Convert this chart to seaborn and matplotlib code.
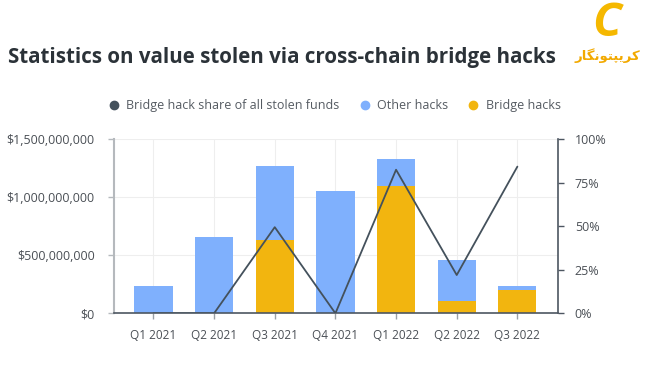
import matplotlib.pyplot as plt
import pandas as pd
import seaborn as sns
from matplotlib.lines import Line2D
from matplotlib.ticker import FuncFormatter

# data
quarters = ['Q1 2021', 'Q2 2021', 'Q3 2021', 'Q4 2021', 'Q1 2022', 'Q2 2022', 'Q3 2022']
total_stolen = [238e6, 655e6, 1267e6, 1052e6, 1330e6, 457e6, 238e6]   # other + bridge
bridge_stolen = [0, 0, 632e6, 0, 1100e6, 106e6, 201e6]
bridge_share = [0, 0, 49.5, 0, 82.5, 22, 84.3]  # percent

BLUE = '#7fb0fd'
YELLOW = '#f2b50f'
DARK = '#44515c'
TEXT = '#4a4f55'

sns.set_theme(style='white')
plt.rcParams['font.family'] = ['Open Sans', 'DejaVu Sans']

df = pd.DataFrame({'quarter': quarters, 'total': total_stolen,
                   'bridge': bridge_stolen, 'share': bridge_share})

fig = plt.figure(figsize=(6.5, 3.65), dpi=100)
ax = fig.add_axes([0.1754, 0.1416, 0.8585 - 0.1754, 0.6184 - 0.1416])

# stacked bars: full height in blue, bridge part in yellow on top of it
sns.barplot(data=df, x='quarter', y='total', color=BLUE, width=0.63,
            saturation=1, linewidth=0, ax=ax, zorder=2)
sns.barplot(data=df, x='quarter', y='bridge', color=YELLOW, width=0.63,
            saturation=1, linewidth=0, ax=ax, zorder=3)

ax.set_xlim(-0.65, 6.67)
ax.set_ylim(0, 1.5e9)
ax.set_yticks([0, 5e8, 1e9, 1.5e9])
ax.yaxis.set_major_formatter(FuncFormatter(lambda v, p: f'${v:,.0f}'))
ax.set_xlabel('')
ax.set_ylabel('')
ax.grid(True, color='#eeeeee', lw=0.8, zorder=0)
ax.set_axisbelow(True)

for side in ['top', 'right']:
    ax.spines[side].set_visible(False)
ax.spines['left'].set_color('#b5b9bd')
ax.spines['left'].set_linewidth(1.5)
ax.spines['bottom'].set_color('#4d5661')
ax.spines['bottom'].set_linewidth(1.2)
ax.spines['bottom'].set_zorder(5)

ax.tick_params(axis='y', left=True, length=4, width=1, color='#b5b9bd',
               pad=10, labelsize=9, labelcolor=TEXT)
ax.tick_params(axis='x', bottom=True, length=4, width=1, color='#9aa0a6',
               pad=7, labelsize=8.5, labelcolor=TEXT)

# share line on the right axis
ax2 = ax.twinx()
sns.lineplot(x=list(range(len(quarters))), y=df['share'], color=DARK,
             lw=1.3, ax=ax2, zorder=4)
ax2.set_ylim(0, 100)
ax2.set_xlim(-0.65, 6.67)
ax2.set_yticks([0, 25, 50, 75, 100])
ax2.yaxis.set_major_formatter(FuncFormatter(lambda v, p: f'{v:.0f}%'))
ax2.set_ylabel('')
for side in ['top', 'left', 'bottom']:
    ax2.spines[side].set_visible(False)
ax2.spines['right'].set_color('#4d5661')
ax2.spines['right'].set_linewidth(1.2)
ax2.tick_params(axis='y', right=True, length=4, width=1, color='#4d5661',
                pad=8, labelsize=9, labelcolor=TEXT)

# legend
handles = [
    Line2D([], [], marker='o', ls='', color=DARK, markersize=6),
    Line2D([], [], marker='o', ls='', color=BLUE, markersize=6),
    Line2D([], [], marker='o', ls='', color=YELLOW, markersize=6),
]
labels = ['Bridge hack share of all stolen funds', 'Other hacks', 'Bridge hacks']
fig.legend(handles, labels, loc='center', bbox_to_anchor=(0.514, 0.71), ncol=3,
           frameon=False, fontsize=9, labelcolor='#555b62', handletextpad=0.5,
           columnspacing=1.5, handlelength=1.0)

# title
fig.text(0.012, 1 - 58 / 365, 'Statistics on value stolen via cross-chain bridge hacks',
         fontsize=14.8, fontweight='bold', color='#2b3238', va='center', ha='left')

# logo (letter + persian name, shaped with presentation forms)
fig.text(607 / 650, 1 - 24 / 365, 'C', fontsize=34, fontweight='bold', style='italic',
         color='#f5b800', ha='center', va='center')
logo_name = '\uFEAD\uFE8E\uFB95\uFEE7\uFEEE\uFE98\uFB59\uFBFE\uFEAE\uFB90'
fig.text(607 / 650, 1 - 56 / 365, logo_name, fontsize=9.5, fontweight='bold',
         family=['DejaVu Sans'], color='#f2a900', ha='center', va='center')

fig.savefig('out.png', dpi=100)
